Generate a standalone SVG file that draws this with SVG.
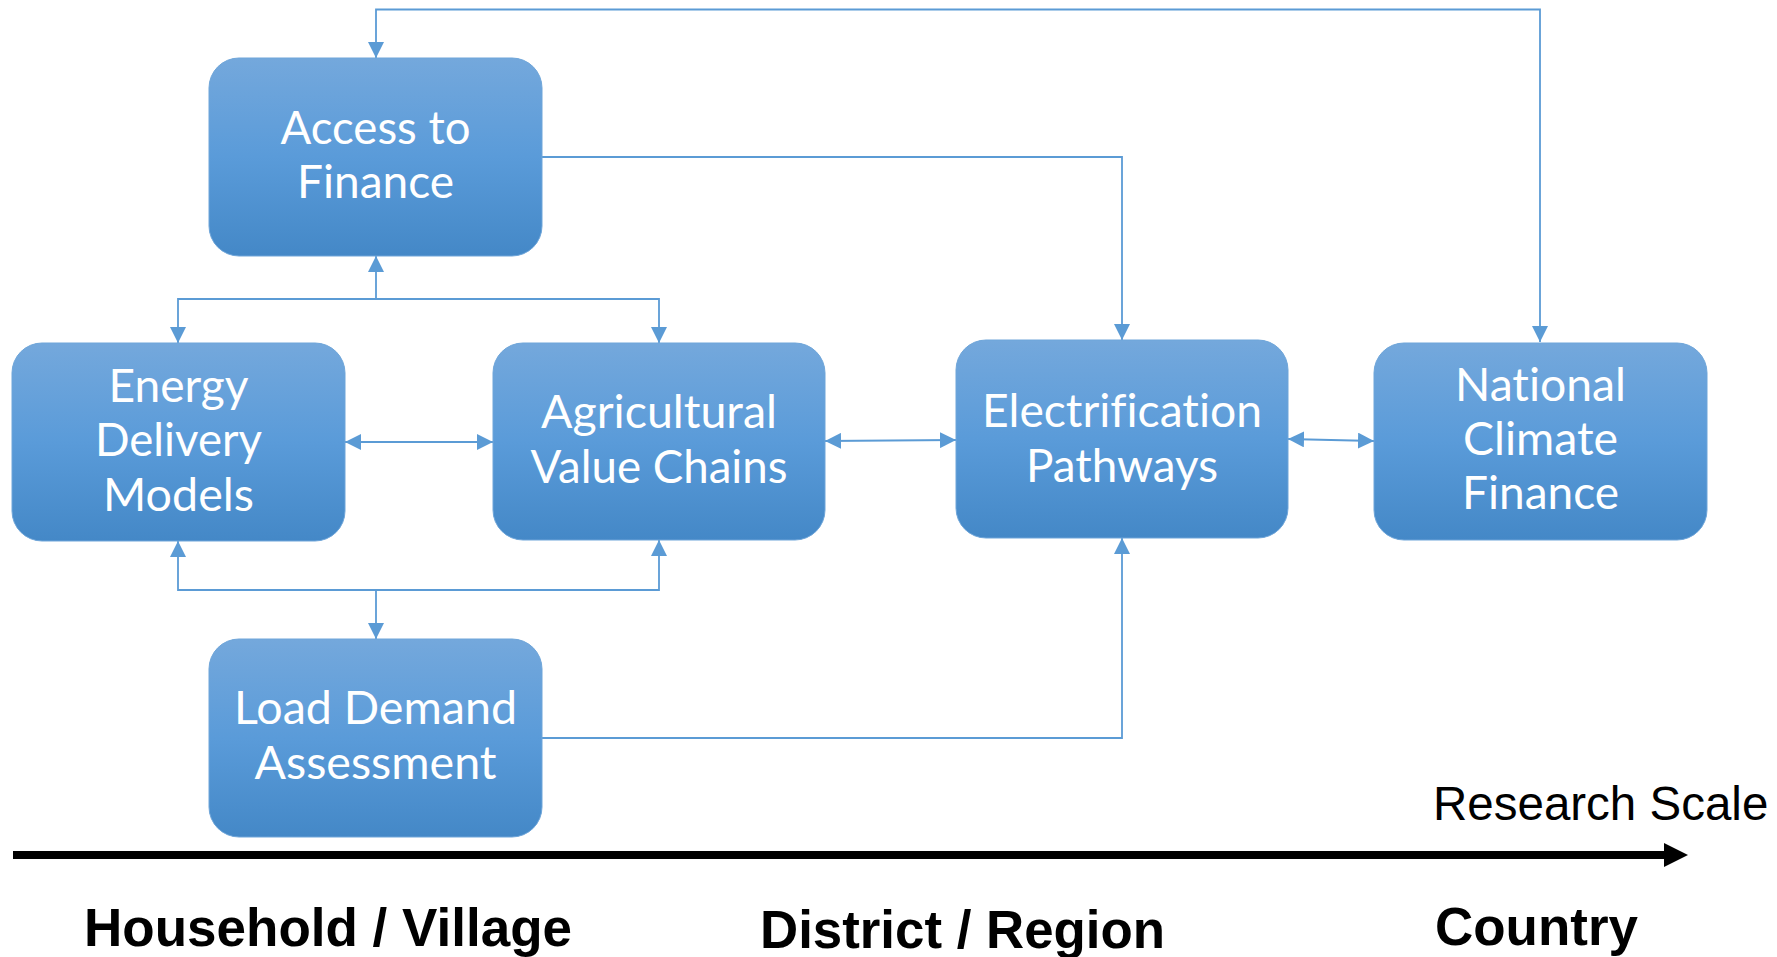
<svg xmlns="http://www.w3.org/2000/svg" width="1777" height="957" viewBox="0 0 1777 957">
<style>
.box{fill:url(#g);stroke:#6ea5d9;stroke-width:1}
.t{font-family:Lato,"Open Sans",sans-serif;font-size:46px;fill:#ffffff;text-anchor:middle;font-variant-ligatures:none}
.c{fill:none;stroke:#5b9bd5;stroke-width:1.8}
.b{font-family:"Liberation Sans",Arial,sans-serif;font-weight:bold;font-size:54px;fill:#000;text-anchor:middle}
</style>
<defs>
<linearGradient id="g" x1="0" y1="0" x2="0" y2="1">
<stop offset="0" stop-color="#74a8dc"/>
<stop offset="0.5" stop-color="#5a9bd9"/>
<stop offset="1" stop-color="#4488c7"/>
</linearGradient>
<marker id="a" markerUnits="userSpaceOnUse" markerWidth="16" markerHeight="16" viewBox="0 0 15 15" refX="15" refY="7.5" orient="auto-start-reverse">
<path d="M0,0 L15,7.5 L0,15 z" fill="#5b9bd5"/>
</marker>
</defs>
<rect width="1777" height="957" fill="#ffffff"/>
<g id="connectors">
<path class="c" d="M1540,342 V9.5 H376 V58" marker-start="url(#a)" marker-end="url(#a)"/>
<path class="c" d="M542,157 H1122 V340" marker-end="url(#a)"/>
<path class="c" d="M376,299 V256" marker-end="url(#a)"/>
<path class="c" d="M178,343 V299 H659 V343" marker-start="url(#a)" marker-end="url(#a)"/>
<path class="c" d="M345,442 H493" marker-start="url(#a)" marker-end="url(#a)"/>
<path class="c" d="M825,441 L956,440" marker-start="url(#a)" marker-end="url(#a)"/>
<path class="c" d="M1288,439 L1374,441" marker-start="url(#a)" marker-end="url(#a)"/>
<path class="c" d="M178,541 V590 H659 V540" marker-start="url(#a)" marker-end="url(#a)"/>
<path class="c" d="M376,590 V639" marker-end="url(#a)"/>
<path class="c" d="M542,738 H1122 V538" marker-end="url(#a)"/>
</g>
<g id="access">
<rect class="box" x="209" y="58" width="333" height="198" rx="30"/>
<text class="t" x="375.5" y="144" textLength="190" lengthAdjust="spacingAndGlyphs">Access to</text>
<text class="t" x="375.5" y="198" textLength="157" lengthAdjust="spacingAndGlyphs">Finance</text>
</g>
<g id="energy">
<rect class="box" x="12" y="343" width="333" height="198" rx="30"/>
<text class="t" x="178.5" y="402" textLength="140" lengthAdjust="spacingAndGlyphs">Energy</text>
<text class="t" x="178.5" y="456" textLength="167" lengthAdjust="spacingAndGlyphs">Delivery</text>
<text class="t" x="178.5" y="511" textLength="151" lengthAdjust="spacingAndGlyphs">Models</text>
</g>
<g id="agri">
<rect class="box" x="493" y="343" width="332" height="197" rx="30"/>
<text class="t" x="659" y="428" textLength="236" lengthAdjust="spacingAndGlyphs">Agricultural</text>
<text class="t" x="659" y="483" textLength="257" lengthAdjust="spacingAndGlyphs">Value Chains</text>
</g>
<g id="electrification">
<rect class="box" x="956" y="340" width="332" height="198" rx="30"/>
<text class="t" x="1122" y="427" textLength="280" lengthAdjust="spacingAndGlyphs">Electrification</text>
<text class="t" x="1122" y="482" textLength="192" lengthAdjust="spacingAndGlyphs">Pathways</text>
</g>
<g id="national">
<rect class="box" x="1374" y="343" width="333" height="197" rx="30"/>
<text class="t" x="1540.5" y="401" textLength="171" lengthAdjust="spacingAndGlyphs">National</text>
<text class="t" x="1540.5" y="455" textLength="155" lengthAdjust="spacingAndGlyphs">Climate</text>
<text class="t" x="1540.5" y="509" textLength="157" lengthAdjust="spacingAndGlyphs">Finance</text>
</g>
<g id="load">
<rect class="box" x="209" y="639" width="333" height="198" rx="30"/>
<text class="t" x="375.5" y="724" textLength="283" lengthAdjust="spacingAndGlyphs">Load Demand</text>
<text class="t" x="375.5" y="779" textLength="242" lengthAdjust="spacingAndGlyphs">Assessment</text>
</g>
<g id="scale">
<line x1="13" y1="855" x2="1666" y2="855" stroke="#000" stroke-width="8"/>
<polygon points="1664,843 1688,855 1664,867" fill="#000"/>
<text x="1433" y="820" font-family="'Liberation Sans',Arial,sans-serif" font-size="47.5" fill="#000">Research Scale</text>
<text class="b" x="328" y="946" textLength="488" lengthAdjust="spacingAndGlyphs">Household / Village</text>
<text class="b" x="962.5" y="948" textLength="405" lengthAdjust="spacingAndGlyphs">District / Region</text>
<text class="b" x="1536.5" y="945" textLength="203" lengthAdjust="spacingAndGlyphs">Country</text>
</g>
</svg>
